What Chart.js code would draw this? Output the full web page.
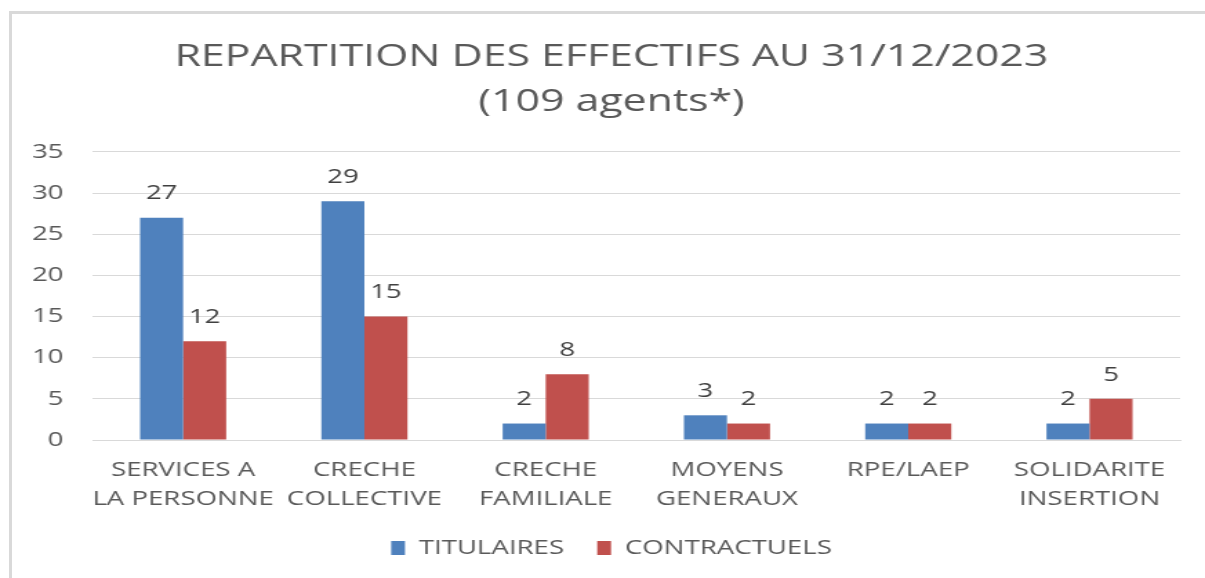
<!DOCTYPE html>
<html>
<head>
<meta charset="utf-8">
<script src="https://cdn.jsdelivr.net/npm/chart.js@4/dist/chart.umd.min.js"></script>
<style>
  html, body { margin: 0; padding: 0; background: #fff; }
  #wrap { position: relative; width: 1205px; height: 578px; overflow: hidden; }
  #frame { position: absolute; left: 9px; top: 11px; width: 1300px; height: 700px;
           border-left: 3px solid #d9d9d9; border-top: 3px solid #d9d9d9; box-sizing: border-box; }
  canvas { position: absolute; left: 0; top: 0; }
</style>
</head>
<body>
<div id="wrap">
  <div id="frame"></div>
  <!-- the reference is horizontally stretched: draw at 873 wide, display at 1205 -->
  <canvas id="c" width="873" height="578" style="width:1205px;height:578px;"></canvas>
</div>
<script>
const categories = [
  ["SERVICES A", "LA PERSONNE"],
  ["CRECHE", "COLLECTIVE"],
  ["CRECHE", "FAMILIALE"],
  ["MOYENS", "GENERAUX"],
  ["RPE/LAEP"],
  ["SOLIDARITE", "INSERTION"]
];
const titulaires = [27, 29, 2, 3, 2, 2];
const contractuels = [12, 15, 8, 2, 2, 5];
const seriesNames = ["TITULAIRES", "CONTRACTUELS"];
const yTicks = [0, 5, 10, 15, 20, 25, 30, 35];
const titleLines = ["REPARTITION DES EFFECTIFS AU 31/12/2023", "(109 agents*)"];

const FONT = "'Open Sans', 'DejaVu Sans', sans-serif";

const valueLabels = {
  id: 'valueLabels',
  afterDatasetsDraw(chart) {
    const ctx = chart.ctx;
    ctx.save();
    ctx.font = "20px " + FONT;
    ctx.fillStyle = '#404040';
    ctx.textAlign = 'center';
    ctx.textBaseline = 'middle';
    chart.data.datasets.forEach((ds, i) => {
      const meta = chart.getDatasetMeta(i);
      meta.data.forEach((bar, j) => {
        ctx.fillText(String(ds.data[j]), bar.x, bar.y - 24);
      });
    });
    ctx.restore();
  }
};

new Chart(document.getElementById('c'), {
  type: 'bar',
  data: {
    labels: categories,
    datasets: [
      { label: seriesNames[0], data: titulaires, backgroundColor: '#4F81BD' },
      { label: seriesNames[1], data: contractuels, backgroundColor: '#C0504D' }
    ]
  },
  options: {
    responsive: false,
    animation: false,
    devicePixelRatio: 1,
    layout: { padding: { left: 22, right: 9, top: 35, bottom: 10 } },
    datasets: { bar: { categoryPercentage: 0.475, barPercentage: 1.0 } },
    plugins: {
      title: {
        display: true,
        text: titleLines,
        color: '#595959',
        font: { family: FONT, size: 31, weight: 'normal', lineHeight: 1.45 },
        padding: { top: 0, bottom: 27 }
      },
      legend: {
        position: 'bottom',
        labels: {
          color: '#595959',
          font: { family: FONT, size: 20 },
          boxWidth: 10,
          boxHeight: 14,
          padding: 24
        }
      },
      tooltip: { enabled: false }
    },
    scales: {
      x: {
        grid: { display: false, drawTicks: false },
        border: { display: true, color: '#d9d9d9', width: 1 },
        ticks: { color: '#595959', font: { family: FONT, size: 20, lineHeight: 1.45 }, padding: 16, maxRotation: 0, autoSkip: false },
        afterFit(scale) { scale.paddingLeft = 0; scale.paddingRight = 18; scale.height = 74; }
      },
      y: {
        min: 0, max: 35,
        afterBuildTicks(axis) { axis.ticks = yTicks.map(v => ({ value: v })); },
        afterFit(scale) { scale.width = 45; },
        grid: { color: '#d9d9d9', drawTicks: false },
        border: { display: false },
        ticks: { color: '#595959', font: { family: FONT, size: 20 }, padding: 21 }
      }
    }
  },
  plugins: [valueLabels]
});
</script>
</body>
</html>
